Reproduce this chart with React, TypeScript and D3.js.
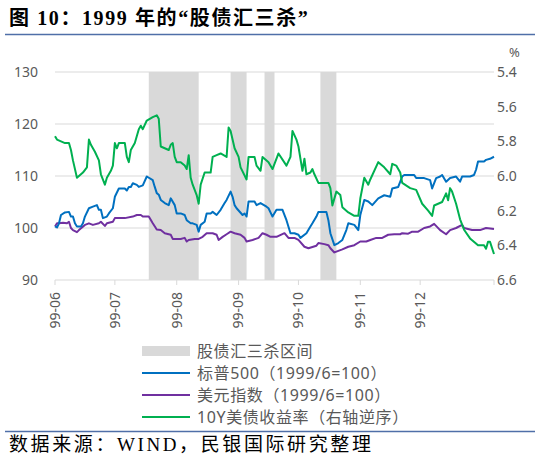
import React from 'react';
import * as d3 from 'd3';

// 标普500 (1999/6=100)
const spx: [string, number][] = [
  ['1999-06-01', 100.3], ['1999-06-02', 100.1], ['1999-06-03', 100.9], ['1999-06-04', 102.5],
  ['1999-06-06', 103.0], ['1999-06-08', 103.1], ['1999-06-09', 102.2], ['1999-06-10', 102.2],
  ['1999-06-11', 100.9], ['1999-06-12', 100.3], ['1999-06-14', 100.3], ['1999-06-15', 100.9],
  ['1999-06-16', 102.2], ['1999-06-18', 103.8], ['1999-06-20', 104.1], ['1999-06-22', 104.4],
  ['1999-06-23', 103.5], ['1999-06-24', 103.5], ['1999-06-25', 101.9], ['1999-06-27', 102.2],
  ['1999-06-28', 102.8], ['1999-06-30', 103.8], ['1999-07-01', 106.0], ['1999-07-03', 107.6],
  ['1999-07-06', 107.6], ['1999-07-07', 107.2], ['1999-07-08', 107.9], ['1999-07-09', 107.9],
  ['1999-07-10', 108.6], ['1999-07-12', 108.3], ['1999-07-13', 107.9], ['1999-07-15', 108.2],
  ['1999-07-17', 109.9], ['1999-07-20', 109.2], ['1999-07-21', 107.9], ['1999-07-22', 106.7],
  ['1999-07-23', 106.4], ['1999-07-24', 105.4], ['1999-07-26', 104.8], ['1999-07-28', 104.4],
  ['1999-07-29', 105.7], ['1999-07-31', 104.4], ['1999-08-01', 102.8], ['1999-08-03', 102.8],
  ['1999-08-05', 102.5], ['1999-08-06', 101.5], ['1999-08-08', 100.9], ['1999-08-09', 100.9],
  ['1999-08-11', 100.6], ['1999-08-12', 99.3], ['1999-08-13', 100.6], ['1999-08-15', 101.2],
  ['1999-08-16', 102.8], ['1999-08-18', 102.8], ['1999-08-19', 103.1], ['1999-08-21', 102.5],
  ['1999-08-23', 103.5], ['1999-08-25', 104.8], ['1999-08-26', 105.4], ['1999-08-28', 107.0],
  ['1999-08-29', 106.0], ['1999-08-30', 104.4], ['1999-08-31', 103.8], ['1999-09-03', 102.5],
  ['1999-09-04', 102.8], ['1999-09-05', 102.2], ['1999-09-06', 105.1], ['1999-09-09', 105.1],
  ['1999-09-10', 104.4], ['1999-09-12', 104.8], ['1999-09-15', 104.1], ['1999-09-16', 103.8],
  ['1999-09-18', 102.2], ['1999-09-20', 103.5], ['1999-09-23', 103.5], ['1999-09-25', 101.5],
  ['1999-09-27', 99.0], ['1999-09-29', 99.0], ['1999-10-01', 98.7], ['1999-10-02', 98.1],
  ['1999-10-05', 99.0], ['1999-10-07', 100.3], ['1999-10-08', 100.9], ['1999-10-10', 102.2],
  ['1999-10-11', 103.1], ['1999-10-15', 103.1], ['1999-10-16', 101.5], ['1999-10-17', 99.0],
  ['1999-10-19', 96.7], ['1999-10-21', 97.1], ['1999-10-23', 97.7], ['1999-10-25', 99.6],
  ['1999-10-26', 100.9], ['1999-10-29', 100.6], ['1999-10-31', 99.6], ['1999-11-01', 102.5],
  ['1999-11-03', 105.4], ['1999-11-05', 105.1], ['1999-11-07', 104.4], ['1999-11-10', 105.7],
  ['1999-11-13', 106.3], ['1999-11-16', 106.0], ['1999-11-17', 107.6], ['1999-11-20', 107.9],
  ['1999-11-22', 109.9], ['1999-11-23', 110.2], ['1999-11-28', 110.2], ['1999-11-29', 109.6],
  ['1999-12-03', 109.6], ['1999-12-06', 109.2], ['1999-12-07', 107.6], ['1999-12-09', 109.6],
  ['1999-12-11', 109.9], ['1999-12-12', 110.2], ['1999-12-14', 108.9], ['1999-12-16', 109.6],
  ['1999-12-19', 109.9], ['1999-12-21', 108.9], ['1999-12-22', 109.9], ['1999-12-26', 109.9],
  ['1999-12-28', 110.2], ['1999-12-29', 111.2], ['1999-12-30', 112.8], ['2000-01-02', 112.8],
  ['2000-01-03', 113.1], ['2000-01-05', 113.3], ['2000-01-07', 113.7],
];

// 美元指数 (1999/6=100)
const dxy: [string, number][] = [
  ['1999-06-01', 100.3], ['1999-06-02', 100.9], ['1999-06-03', 100.9], ['1999-06-05', 101.0],
  ['1999-06-07', 100.9], ['1999-06-08', 101.2], ['1999-06-09', 100.0], ['1999-06-10', 99.6],
  ['1999-06-12', 99.2], ['1999-06-13', 99.6], ['1999-06-16', 100.6], ['1999-06-18', 100.9],
  ['1999-06-20', 100.6], ['1999-06-23', 100.9], ['1999-06-24', 101.2], ['1999-06-26', 100.4],
  ['1999-06-27', 100.9], ['1999-06-30', 101.2], ['1999-07-01', 101.9], ['1999-07-06', 101.9],
  ['1999-07-10', 102.2], ['1999-07-12', 102.5], ['1999-07-14', 102.5], ['1999-07-15', 102.2],
  ['1999-07-18', 102.2], ['1999-07-20', 100.9], ['1999-07-22', 99.7], ['1999-07-24', 99.6],
  ['1999-07-26', 99.0], ['1999-07-29', 98.7], ['1999-07-30', 97.9], ['1999-08-03', 97.9],
  ['1999-08-05', 98.1], ['1999-08-06', 97.4], ['1999-08-07', 97.7], ['1999-08-10', 97.9],
  ['1999-08-12', 97.9], ['1999-08-14', 98.3], ['1999-08-16', 99.0], ['1999-08-19', 99.0],
  ['1999-08-21', 98.7], ['1999-08-22', 97.7], ['1999-08-24', 98.3], ['1999-08-26', 98.8],
  ['1999-08-28', 99.3], ['1999-08-30', 99.0], ['1999-09-02', 98.7], ['1999-09-04', 98.1],
  ['1999-09-05', 97.4], ['1999-09-08', 97.7], ['1999-09-11', 98.1], ['1999-09-13', 99.0],
  ['1999-09-15', 98.7], ['1999-09-17', 98.3], ['1999-09-20', 98.3], ['1999-09-24', 99.0],
  ['1999-09-26', 98.1], ['1999-09-29', 98.1], ['1999-10-01', 97.7], ['1999-10-04', 96.4],
  ['1999-10-06', 96.1], ['1999-10-10', 96.6], ['1999-10-11', 97.1], ['1999-10-14', 96.9],
  ['1999-10-16', 96.7], ['1999-10-17', 96.1], ['1999-10-19', 95.3], ['1999-10-21', 95.6],
  ['1999-10-23', 95.9], ['1999-10-26', 96.4], ['1999-10-29', 96.7], ['1999-11-01', 97.4],
  ['1999-11-04', 97.4], ['1999-11-06', 97.7], ['1999-11-09', 98.1], ['1999-11-12', 98.1],
  ['1999-11-15', 98.7], ['1999-11-18', 98.8], ['1999-11-21', 98.8], ['1999-11-22', 99.0],
  ['1999-11-25', 98.9], ['1999-11-27', 99.3], ['1999-11-30', 99.3], ['1999-12-03', 100.0],
  ['1999-12-06', 100.3], ['1999-12-08', 100.8], ['1999-12-11', 99.6], ['1999-12-14', 98.8],
  ['1999-12-16', 99.6], ['1999-12-19', 100.0], ['1999-12-22', 100.6], ['1999-12-23', 100.0],
  ['1999-12-27', 99.6], ['1999-12-31', 99.6], ['2000-01-03', 100.0], ['2000-01-07', 99.8],
];

// 10Y美债收益率 (%), 右轴逆序
const ust10y: [string, number][] = [
  ['1999-06-01', 5.77], ['1999-06-02', 5.79], ['1999-06-04', 5.80], ['1999-06-06', 5.81],
  ['1999-06-08', 5.81], ['1999-06-09', 5.85], ['1999-06-10', 5.91], ['1999-06-12', 6.01],
  ['1999-06-13', 6.00], ['1999-06-15', 5.98], ['1999-06-17', 5.95], ['1999-06-18', 5.79],
  ['1999-06-19', 5.82], ['1999-06-21', 5.86], ['1999-06-23', 5.91], ['1999-06-24', 5.99],
  ['1999-06-26', 6.05], ['1999-06-27', 6.01], ['1999-06-29', 5.97], ['1999-06-30', 5.94],
  ['1999-07-01', 5.81], ['1999-07-02', 5.84], ['1999-07-03', 5.81], ['1999-07-06', 5.81],
  ['1999-07-07', 5.89], ['1999-07-08', 5.92], ['1999-07-09', 5.85], ['1999-07-11', 5.81],
  ['1999-07-13', 5.73], ['1999-07-14', 5.71], ['1999-07-15', 5.73], ['1999-07-17', 5.68],
  ['1999-07-20', 5.66], ['1999-07-22', 5.65], ['1999-07-23', 5.67], ['1999-07-24', 5.83],
  ['1999-07-26', 5.84], ['1999-07-28', 5.85], ['1999-07-29', 5.82], ['1999-07-30', 5.81],
  ['1999-07-31', 5.89], ['1999-08-01', 5.92], ['1999-08-03', 5.92], ['1999-08-05', 5.94],
  ['1999-08-06', 5.96], ['1999-08-07', 5.88], ['1999-08-08', 6.01], ['1999-08-09', 6.05],
  ['1999-08-11', 6.11], ['1999-08-12', 6.16], ['1999-08-13', 6.05], ['1999-08-15', 5.98],
  ['1999-08-18', 5.98], ['1999-08-19', 5.89], ['1999-08-21', 5.88], ['1999-08-23', 5.87],
  ['1999-08-26', 5.89], ['1999-08-27', 5.72], ['1999-08-28', 5.74], ['1999-08-30', 5.84],
  ['1999-09-01', 5.89], ['1999-09-02', 5.95], ['1999-09-05', 6.02], ['1999-09-06', 5.89],
  ['1999-09-09', 5.89], ['1999-09-10', 5.94], ['1999-09-12', 5.97], ['1999-09-13', 5.89],
  ['1999-09-16', 5.92], ['1999-09-18', 5.96], ['1999-09-21', 5.87], ['1999-09-25', 5.94],
  ['1999-09-27', 5.89], ['1999-09-28', 5.74], ['1999-09-30', 5.79], ['1999-10-01', 5.83],
  ['1999-10-03', 5.97], ['1999-10-04', 5.90], ['1999-10-05', 5.99], ['1999-10-07', 5.98],
  ['1999-10-08', 5.96], ['1999-10-09', 5.99], ['1999-10-11', 6.04], ['1999-10-16', 6.04],
  ['1999-10-17', 6.07], ['1999-10-18', 6.17], ['1999-10-20', 6.09], ['1999-10-22', 6.11],
  ['1999-10-23', 6.18], ['1999-10-26', 6.21], ['1999-10-29', 6.23], ['1999-10-31', 6.23],
  ['1999-11-01', 6.13], ['1999-11-03', 6.01], ['1999-11-05', 6.05], ['1999-11-06', 6.02],
  ['1999-11-10', 5.92], ['1999-11-13', 5.95], ['1999-11-16', 5.99], ['1999-11-17', 5.93],
  ['1999-11-19', 5.94], ['1999-11-21', 5.98], ['1999-11-22', 6.04], ['1999-11-26', 6.07],
  ['1999-11-29', 6.08], ['1999-12-02', 6.16], ['1999-12-05', 6.20], ['1999-12-07', 6.23],
  ['1999-12-08', 6.17], ['1999-12-10', 6.16], ['1999-12-12', 6.15], ['1999-12-14', 6.10],
  ['1999-12-15', 6.14], ['1999-12-16', 6.07], ['1999-12-17', 6.09], ['1999-12-19', 6.16],
  ['1999-12-21', 6.25], ['1999-12-23', 6.31], ['1999-12-26', 6.36], ['1999-12-30', 6.40],
  ['2000-01-02', 6.40], ['2000-01-03', 6.42], ['2000-01-04', 6.38], ['2000-01-05', 6.38],
  ['2000-01-07', 6.45],
];

// 股债汇三杀区间
const killPeriods: [string, string][] = [
  ['1999-07-18', '1999-08-12'],
  ['1999-08-28', '1999-09-05'],
  ['1999-09-14', '1999-09-19'],
  ['1999-10-12', '1999-10-20'],
];

const monthTicks = ['1999-06-01', '1999-07-01', '1999-08-01', '1999-09-01', '1999-10-01', '1999-11-01', '1999-12-01'];
const leftTicks = [90, 100, 110, 120, 130];
const rightTicks = [5.4, 5.6, 5.8, 6.0, 6.2, 6.4, 6.6];
const legendLabels = ['股债汇三杀区间', '标普500（1999/6=100）', '美元指数（1999/6=100）', '10Y美债收益率（右轴逆序）'];

const parse = d3.timeParse('%Y-%m-%d');
const fmt = d3.timeFormat('%y-%m');

const W = 540;
const H = 460;
const margin = { top: 72, right: 46, bottom: 180, left: 55 };
const plotW = W - margin.left - margin.right;
const plotH = H - margin.top - margin.bottom;

const font = '"Noto Sans", "Noto Sans CJK SC", sans-serif';
const serif = '"Liberation Serif", "Noto Sans CJK SC", serif';
const grey = '#595959';

const App = () => {
  const x = d3.scaleTime()
    .domain([parse('1999-06-01')!, parse('2000-01-07')!])
    .range([margin.left, margin.left + plotW]);
  const yL = d3.scaleLinear().domain([90, 130]).range([margin.top + plotH, margin.top]);
  // 右轴逆序
  const yR = d3.scaleLinear().domain([6.6, 5.4]).range([margin.top + plotH, margin.top]);

  const lineL = d3.line<[string, number]>()
    .x(d => x(parse(d[0])!))
    .y(d => yL(d[1]));
  const lineR = d3.line<[string, number]>()
    .x(d => x(parse(d[0])!))
    .y(d => yR(d[1]));

  const bottom = margin.top + plotH;
  const right = margin.left + plotW;
  const legendX = 142;
  const legendY = [351, 373, 395, 417];
  const colors = ['#D9D9D9', '#0070C0', '#7030A0', '#00B050'];

  return (
    <svg width={W} height={H} style={{ position: 'absolute', left: 0, top: 0, background: '#fff' }}>
      <text x={9} y={25} fontFamily={serif} fontWeight="bold" fontSize={20} letterSpacing={1.6} fill="#000">
        图 10：1999 年的“股债汇三杀”
      </text>
      <line x1={5} x2={535} y1={34.5} y2={34.5} stroke="#4F6FA8" strokeWidth={1.5} />

      {killPeriods.map(([a, b], i) => (
        <rect key={i} x={x(parse(a)!)} y={margin.top} width={x(parse(b)!) - x(parse(a)!)}
          height={plotH} fill="#D9D9D9" />
      ))}

      {leftTicks.slice(1).map(t => (
        <line key={t} x1={margin.left} x2={right} y1={yL(t)} y2={yL(t)} stroke="#D9D9D9" strokeWidth={1} />
      ))}
      <line x1={margin.left} x2={right} y1={bottom} y2={bottom} stroke="#D9D9D9" strokeWidth={1} />
      {[...monthTicks, '2000-01-07'].map(t => (
        <line key={t} x1={x(parse(t)!)} x2={x(parse(t)!)} y1={bottom} y2={bottom + 5} stroke="#D9D9D9" />
      ))}

      <path d={lineL(dxy)!} fill="none" stroke="#7030A0" strokeWidth={2} strokeLinejoin="round" />
      <path d={lineL(spx)!} fill="none" stroke="#0070C0" strokeWidth={2} strokeLinejoin="round" />
      <path d={lineR(ust10y)!} fill="none" stroke="#00B050" strokeWidth={2} strokeLinejoin="round" />

      {leftTicks.map(t => (
        <text key={t} x={38} y={yL(t)} dy="0.35em" textAnchor="end" fontFamily={font} fontSize={14} fill={grey}>{t}</text>
      ))}
      {rightTicks.map(t => (
        <text key={t} x={497} y={yR(t)} dy="0.35em" fontFamily={font} fontSize={14} fill={grey}>{t.toFixed(1)}</text>
      ))}
      <text x={509} y={57} fontFamily={font} fontSize={13} fill={grey}>%</text>

      {monthTicks.map(t => (
        <text key={t} transform={`translate(${x(parse(t)!)},${bottom + 12}) rotate(-90)`}
          textAnchor="end" dy="0.35em" fontFamily={font} fontSize={14} fill={grey}>{fmt(parse(t)!)}</text>
      ))}

      {legendLabels.map((label, i) => (
        <g key={label}>
          {i === 0
            ? <rect x={legendX} y={legendY[i] - 5} width={48} height={10} fill={colors[i]} />
            : <line x1={legendX} x2={legendX + 48} y1={legendY[i]} y2={legendY[i]} stroke={colors[i]} strokeWidth={2} />}
          <text x={legendX + 55} y={legendY[i]} dy="0.35em" fontFamily={font} fontSize={16} letterSpacing={0.6} fill={grey}>{label}</text>
        </g>
      ))}

      <line x1={5} x2={535} y1={431.5} y2={431.5} stroke="#4F6FA8" strokeWidth={1.5} />
      <text x={9} y={451} fontFamily={serif} fontSize={19} letterSpacing={2.6} fill="#000">数据来源：WIND，民银国际研究整理</text>
    </svg>
  );
};

export default App;
